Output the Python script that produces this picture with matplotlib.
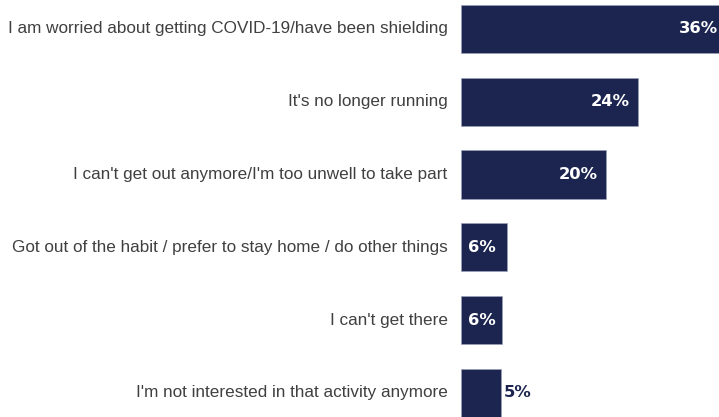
import matplotlib
matplotlib.use('Agg')
import matplotlib.pyplot as plt

# reasons for not taking part, share of respondents (%)
reasons = [
    "I am worried about getting COVID-19/have been shielding",
    "It's no longer running",
    "I can't get out anymore/I'm too unwell to take part",
    "Got out of the habit / prefer to stay home / do other things",
    "I can't get there",
    "I'm not interested in that activity anymore",
]
shares = [36.0, 24.0, 19.7, 6.2, 5.6, 5.45]

NAVY = '#1b2550'
GREY = '#404040'

fig = plt.figure(figsize=(7.19, 4.17), dpi=100)
# axes starts where the bars start; it runs a bit past the top/bottom edges
ax = fig.add_axes([460.7 / 719, -12.4 / 417, (719 - 460.7) / 719, 437 / 417])

ypos = list(range(len(reasons)))
ax.barh(ypos, shares, height=0.66, color=NAVY, edgecolor='#9aa0b8', linewidth=0.5)
ax.set_xlim(0, (719 - 460.7) / 7.4)
ax.set_ylim(len(reasons) - 0.5, -0.5)
ax.axis('off')

px = 1 / 7.4  # one pixel in data units
for y, label, v in zip(ypos, reasons, shares):
    ax.text(-13 * px, y, label, ha='right', va='center', fontsize=12.3,
            family='Liberation Sans', color=GREY)
    txt = '{:.0f}%'.format(v)
    if v >= 10:
        ax.text(v - 9 * px, y, txt, ha='right', va='center', fontsize=11.8,
                fontweight='bold', color='white')
    elif v >= 5.5:
        ax.text(7.6 * px, y, txt, ha='left', va='center', fontsize=11.8,
                fontweight='bold', color='white')
    else:
        ax.text(v + 2.7 * px, y, txt, ha='left', va='center', fontsize=11.8,
                fontweight='bold', color=NAVY)

fig.savefig('out.png', dpi=100)
